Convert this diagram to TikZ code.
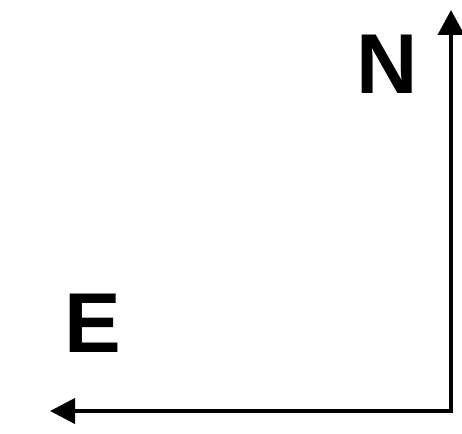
\documentclass[tikz,border=0pt]{standalone}
\usepackage{fontspec}
\setmainfont{Liberation Sans}
\usetikzlibrary{arrows.meta}
\begin{document}
\begin{tikzpicture}[x=1pt,y=-1pt,
  lbl/.style={inner sep=0pt,font=\fontsize{85}{90}\selectfont\bfseries},
  axis/.style={line width=4pt,line join=miter,
    {Triangle[length=25pt,width=26pt]}-{Triangle[length=25pt,width=25pt]}}]
\useasboundingbox[fill=white] (0,0) rectangle (462,433);
\coordinate (ntip) at (451,10);
\coordinate (corner) at (451,411);
\coordinate (etip) at (50,411);
\node[lbl,anchor=base east] (N) at (418.5,94) {N};
\node[lbl,anchor=base west] (E) at (64.5,352) {E};
\draw[axis] (ntip) -- (corner) -- (etip);
\end{tikzpicture}
\end{document}
